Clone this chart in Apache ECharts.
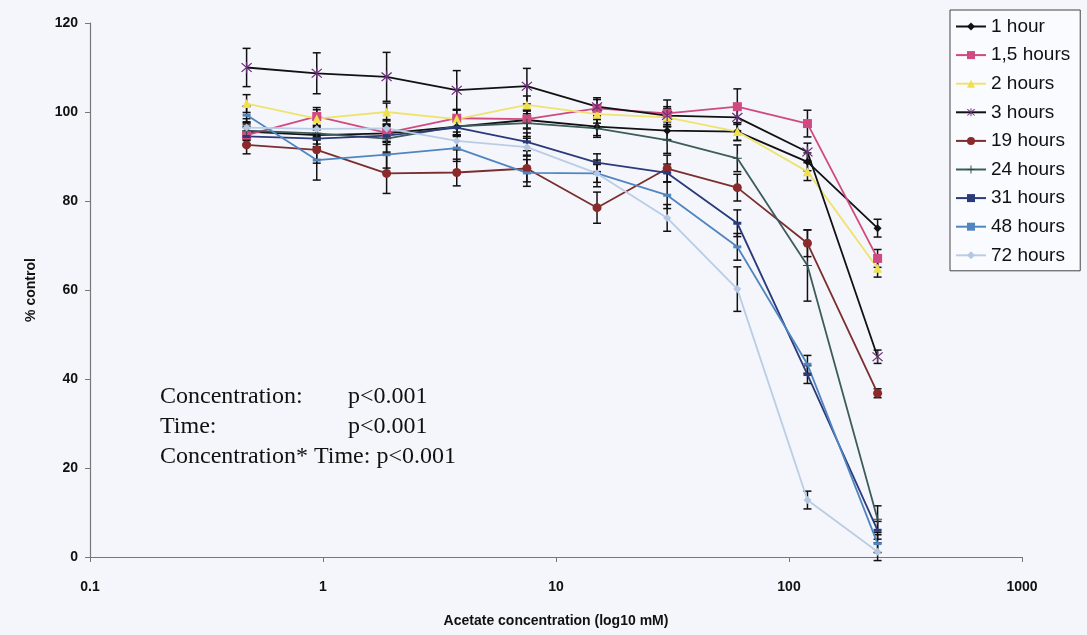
<!DOCTYPE html>
<html>
<head>
<meta charset="utf-8">
<script src="https://cdn.jsdelivr.net/npm/echarts@6/dist/echarts.min.js"></script>
<style>
  html, body { margin: 0; padding: 0; background: #f5f6fb; }
  #chart { width: 1087px; height: 635px; }
</style>
</head>
<body>
<div id="chart"></div>
<script>
// Acetate concentrations (mM)
const concentrations = [0.47, 0.94, 1.875, 3.75, 7.5, 15, 30, 60, 120, 240];
const xTickLabels = ['0.1', '1', '10', '100', '1000'];
const yTickLabels = ['0', '20', '40', '60', '80', '100', '120'];

// % of control, per exposure time
const h1   = [95.6, 94.8, 95.2, 96.7, 98.2, 96.7, 95.8, 95.6, 88.8, 73.9];
const h1_5 = [94.8, 99.0, 95.3, 98.6, 98.4, 100.8, 99.7, 101.2, 97.4, 67.1];
const h2   = [101.9, 98.5, 100.0, 98.4, 101.6, 99.5, 98.8, 95.6, 86.6, 64.9];
const h3   = [110.0, 108.7, 107.9, 104.9, 105.8, 101.2, 99.2, 98.8, 91.0, 45.0];
const h19  = [92.6, 91.5, 86.2, 86.4, 87.3, 78.5, 87.3, 83.0, 70.5, 36.8];
const h24  = [95.8, 95.2, 94.0, 96.8, 97.5, 96.3, 93.7, 89.6, 65.5, 8.5];
const h31  = [94.5, 94.0, 94.7, 96.5, 93.3, 88.6, 86.3, 75.0, 41.0, 6.0];
const h48  = [99.3, 89.2, 90.4, 91.9, 86.3, 86.2, 81.3, 69.7, 43.3, 3.0];
const h72  = [96.5, 96.2, 96.3, 93.5, 92.1, 86.2, 76.2, 60.2, 12.8, 1.2];

// standard errors (half-length of each error bar)
const e1   = [2, 2, 2, 2, 2, 2, 2, 2, 2, 2];
const e1_5 = [2, 2, 2, 2, 2, 2, 3, 4, 3, 2];
const e2   = [2, 2, 2, 2, 2, 2, 2, 2, 2, 2];
const e3   = [4.3, 4.6, 5.5, 4.4, 4.0, 2.0, 2.0, 3.0, 2.0, 1.5];
const e19  = [2, 3, 4.5, 3, 3, 3.5, 3, 3, 3, 1];
const e24  = [2, 3, 3, 2, 3, 2, 3, 3, 8, 3];
const e31  = [2, 2, 2, 2, 2, 2, 2, 3, 2, 2];
const e48  = [2, 4.5, 3, 3, 3, 3, 3, 3, 2, 2];
const e72  = [2, 2, 2, 2, 2, 2, 3, 5, 2, 2];

const seriesNames = ['1 hour', '1,5 hours', '2 hours', '3 hours', '19 hours', '24 hours', '31 hours', '48 hours', '72 hours'];
const seriesValues = [h1, h1_5, h2, h3, h19, h24, h31, h48, h72];
const seriesErrors = [e1, e1_5, e2, e3, e19, e24, e31, e48, e72];

const asterisk = 'path://M4.5 0L5.5 0L5.5 10L4.5 10Z M0.7 1.4L1.4 0.7L9.3 8.6L8.6 9.3Z M8.6 0.7L9.3 1.4L1.4 9.3L0.7 8.6Z';
const plus = 'path://M4.4 0L5.6 0L5.6 10L4.4 10Z M0 4.4L10 4.4L10 5.6L0 5.6Z';

const styles = [
  { line: '#111111', mark: '#111111', symbol: 'diamond', size: 8 },
  { line: '#cf4a80', mark: '#cf4a80', symbol: 'rect', size: 9 },
  { line: '#eee36e', mark: '#f0e04a', symbol: 'triangle', size: 9 },
  { line: '#111111', mark: '#6b2f7a', symbol: asterisk, size: 11 },
  { line: '#7a2e2e', mark: '#8a2a2a', symbol: 'circle', size: 9 },
  { line: '#3d5c5c', mark: '#2f4848', symbol: plus, size: 9 },
  { line: '#2b3a7a', mark: '#2b3a7a', symbol: 'rect', size: [8, 3] },
  { line: '#4f86c0', mark: '#4f86c0', symbol: 'rect', size: [8, 3] },
  { line: '#b9cde6', mark: '#b4c8e4', symbol: 'diamond', size: 8 }
];

function errorBarSeries(values, errors) {
  return {
    type: 'custom',
    silent: true,
    z: 1,
    data: concentrations.map((c, i) => [c, values[i] - errors[i], values[i] + errors[i]]),
    renderItem: function (params, api) {
      const lo = api.coord([api.value(0), api.value(1)]);
      const hi = api.coord([api.value(0), api.value(2)]);
      const w = 4;
      const st = { stroke: '#111', lineWidth: 1.5 };
      return {
        type: 'group',
        children: [
          { type: 'line', shape: { x1: lo[0], y1: lo[1], x2: hi[0], y2: hi[1] }, style: st },
          { type: 'line', shape: { x1: lo[0] - w, y1: lo[1], x2: lo[0] + w, y2: lo[1] }, style: st },
          { type: 'line', shape: { x1: hi[0] - w, y1: hi[1], x2: hi[0] + w, y2: hi[1] }, style: st }
        ]
      };
    }
  };
}

const series = [];
seriesValues.forEach((vals, k) => series.push(errorBarSeries(vals, seriesErrors[k])));
seriesValues.forEach((vals, k) => {
  const s = styles[k];
  series.push({
    name: seriesNames[k],
    type: 'line',
    z: 3,
    data: concentrations.map((c, i) => [c, vals[i]]),
    symbol: s.symbol,
    symbolSize: s.size,
    showAllSymbol: true,
    lineStyle: { color: s.line, width: 1.8 },
    itemStyle: { color: s.mark, borderWidth: 0 },
    emphasis: { disabled: true },
    animation: false
  });
});

const serif = '24px "Liberation Serif"';

const chart = echarts.init(document.getElementById('chart'), null, { renderer: 'canvas' });
chart.setOption({
  backgroundColor: '#f5f6fb',
  animation: false,
  grid: { left: 90, right: 65, top: 23, bottom: 78 },
  xAxis: {
    type: 'log',
    logBase: 10,
    min: 0.1,
    max: 1000,
    name: 'Acetate concentration (log10 mM)',
    nameLocation: 'middle',
    nameGap: 57,
    nameTextStyle: { fontFamily: 'Liberation Sans', fontWeight: 'bold', fontSize: 14, color: '#111' },
    axisLine: { lineStyle: { color: '#777', width: 1.2 } },
    axisTick: { show: true, length: 5, lineStyle: { color: '#777' } },
    axisLabel: {
      margin: 23,
      fontFamily: 'Liberation Sans', fontWeight: 'bold', fontSize: 14, color: '#111',
      formatter: (v, idx) => xTickLabels[idx]
    },
    minorTick: { show: false },
    splitLine: { show: false }
  },
  yAxis: {
    type: 'value',
    min: 0,
    max: 120,
    interval: 20,
    name: '% control',
    nameLocation: 'middle',
    nameGap: 52,
    nameTextStyle: { fontFamily: 'Liberation Sans', fontWeight: 'bold', fontSize: 14, color: '#111' },
    axisLine: { show: true, lineStyle: { color: '#777', width: 1.2 } },
    axisTick: { show: true, length: 5, lineStyle: { color: '#777' } },
    axisLabel: {
      margin: 12,
      fontFamily: 'Liberation Sans', fontWeight: 'bold', fontSize: 14, color: '#111',
      formatter: (v, idx) => yTickLabels[idx]
    },
    splitLine: { show: false }
  },
  legend: {
    data: seriesNames,
    orient: 'vertical',
    left: 950,
    top: 10,
    itemWidth: 30,
    itemHeight: 10,
    itemGap: 9.6,
    padding: [7, 10, 6, 5],
    borderColor: '#444',
    borderWidth: 1,
    backgroundColor: '#fafbff',
    selectedMode: false,
    textStyle: { fontFamily: 'Liberation Sans', fontSize: 19, color: '#111' }
  },
  graphic: [
    { type: 'text', left: 160, top: 385, style: { text: 'Concentration:', font: serif, fill: '#111' } },
    { type: 'text', left: 348, top: 385, style: { text: 'p<0.001', font: serif, fill: '#111' } },
    { type: 'text', left: 160, top: 415, style: { text: 'Time:', font: serif, fill: '#111' } },
    { type: 'text', left: 348, top: 415, style: { text: 'p<0.001', font: serif, fill: '#111' } },
    { type: 'text', left: 160, top: 445, style: { text: 'Concentration* Time: p<0.001', font: serif, fill: '#111' } }
  ],
  series: series
});
</script>
</body>
</html>
